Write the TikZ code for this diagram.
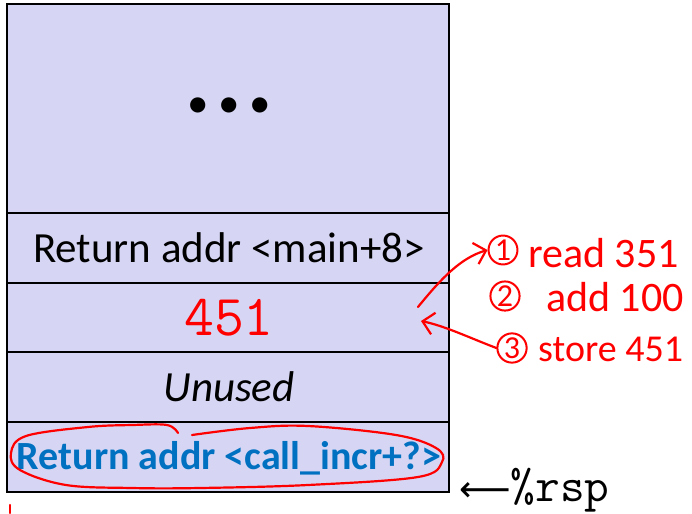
\documentclass[tikz,border=0pt]{standalone}
\usepackage{fontspec}
\setmainfont{Carlito}
\newfontfamily\arrowfont{DejaVu Sans}
\usetikzlibrary{arrows.meta}
\definecolor{stackfill}{RGB}{214,214,244}
\definecolor{addrblue}{RGB}{0,112,192}
\definecolor{inkred}{RGB}{255,0,0}
\tikzset{
    cell/.style={draw=black, fill=stackfill, line width=2pt},
    celltext/.style={font=\fontsize{43}{48}\selectfont},
    ink/.style={draw=inkred, line width=2.2pt, line cap=round, line join=round},
    inkarrow/.style={ink, -{Straight Barb[length=11pt,width=22pt,line width=2.2pt]}},
    inktext/.style={text=inkred, font=\fontsize{42}{46}\selectfont, inner sep=0pt},
    stepmark/.style={circle, draw=inkred, line width=2pt, text=inkred, inner sep=1pt,
        minimum size=28pt, font=\fontsize{32}{34}\selectfont},
}
\begin{document}
\begin{tikzpicture}[x=1pt, y=-1pt]
        \useasboundingbox (0, 0) rectangle (692, 513);

        % stack cells
        \draw[cell] (7, 4) rectangle (449, 213);
        \draw[cell] (7, 213) rectangle (449, 283);
        \draw[cell] (7, 283) rectangle (449, 352);
        \draw[cell] (7, 352) rectangle (449, 422);
        \draw[cell] (7, 422) rectangle (449, 492);

        \node[celltext] (dots) at (229, 108) {• • •};
        \node[celltext] (ret-main) at (229, 248) {Return addr <main+8>};
        \node[celltext, text=inkred, font=\ttfamily\fontsize{58}{60}\selectfont] (value) at (229, 318) {451};
        \node[celltext, font=\itshape\fontsize{43}{48}\selectfont] (unused) at (229, 387) {Unused};
        \node[celltext, text=addrblue, font=\bfseries\fontsize{40}{44}\selectfont] (ret-incr) at (229, 458) {Return addr <call\_incr+?>};

        \node[anchor=west, inner sep=0pt, font=\ttfamily\fontsize{48}{50}\selectfont] (rsp) at (459, 490) {{\arrowfont\fontsize{36}{40}\selectfont ⟵}\%rsp};

        % hand-written notes
        \node[stepmark] (step-1) at (503, 250) {1};
        \node[inktext, anchor=west] (read) at (528, 253) {read 351};
        \node[stepmark] (step-2) at (505, 296) {2};
        \node[inktext, anchor=west] (add) at (546, 297) {add 100};
        \node[stepmark] (step-3) at (512, 348) {3};
        \node[inktext, anchor=west, font=\fontsize{38}{42}\selectfont] (store) at (538, 349) {store 451};

        \coordinate (read-from) at (418, 307);
        \coordinate (store-to) at (421, 321);
        \draw[inkarrow] (read-from) .. controls (440, 280) and (460, 258) .. (step-1.west);
        \draw[inkarrow] (step-3.west) .. controls (470, 338) and (445, 326) .. (store-to);

        % circle round the return address
        \draw[ink] plot[smooth, tension=0.6] coordinates {(192, 435) (250, 428) (308, 426) (396, 435) (436, 448) (442, 462) (418, 477) (308, 485) (200, 488) (132, 488) (66, 485) (20, 470) (11, 453) (26, 436) (88, 427) (132, 425) (167, 425) (178, 433)};
        \draw[ink] (10, 505) -- (10, 513);
    \end{tikzpicture}
\end{document}
